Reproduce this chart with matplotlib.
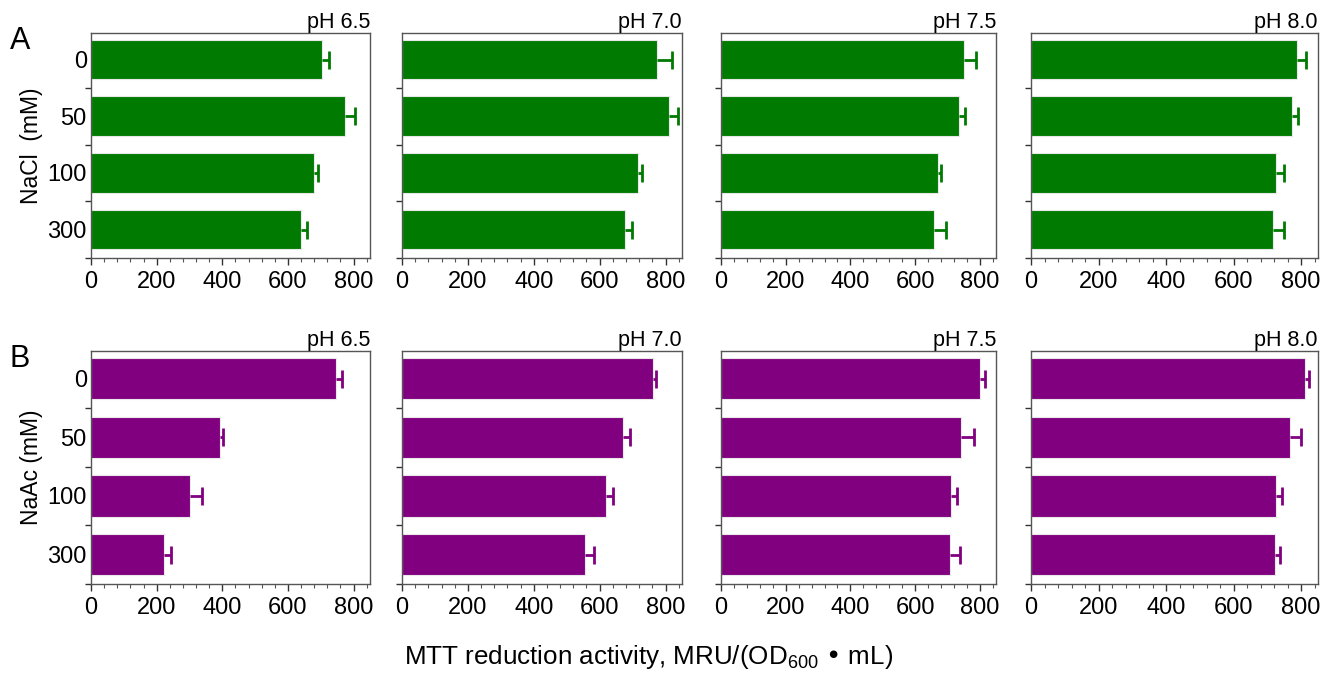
import numpy as np
import matplotlib
matplotlib.use("Agg")
from matplotlib import pyplot as plt
from matplotlib.ticker import MultipleLocator, FixedLocator

plt.rcParams['font.family'] = ['Liberation Sans', 'DejaVu Sans']
plt.rcParams['mathtext.default'] = 'regular'

ph_labels = ["pH 6.5", "pH 7.0", "pH 7.5", "pH 8.0"]
conc = ["0", "50", "100", "300"]

# NaCl, one list per pH: values for 0, 50, 100, 300 mM
nacl_65 = [705, 773, 678, 639]
nacl_70 = [775, 810, 717, 678]
nacl_75 = [750, 736, 672, 658]
nacl_80 = [787, 774, 726, 718]
nacl_65_err = [20, 30, 15, 20]
nacl_70_err = [46, 29, 12, 21]
nacl_75_err = [37, 18, 9, 38]
nacl_80_err = [28, 17, 22, 32]

# NaAc
naac_65 = [746, 392, 302, 223]
naac_70 = [763, 672, 618, 555]
naac_75 = [802, 743, 711, 708]
naac_80 = [811, 766, 727, 724]
naac_65_err = [19, 11, 37, 21]
naac_70_err = [8, 19, 24, 29]
naac_75_err = [15, 40, 18, 30]
naac_80_err = [11, 33, 15, 13]

rows = [
    ("NaCl  (mM)", "A", "#007a00",
     [nacl_65, nacl_70, nacl_75, nacl_80],
     [nacl_65_err, nacl_70_err, nacl_75_err, nacl_80_err]),
    ("NaAc (mM)", "B", "#800080",
     [naac_65, naac_70, naac_75, naac_80],
     [naac_65_err, naac_70_err, naac_75_err, naac_80_err]),
]

W, H = 1331, 673
fig = plt.figure(figsize=(W / 100, H / 100), dpi=100)

# panel boxes in pixels: left, right per column; top, bottom per row
col_lr = [(91, 370), (402, 682), (721, 996), (1031, 1318)]
row_tb = [(33, 258), (351, 584)]

y = np.arange(len(conc))
for r, (ylab, letter, color, vals, errs) in enumerate(rows):
    top, bot = row_tb[r]
    for c in range(4):
        l, rr = col_lr[c]
        ax = fig.add_axes([l / W, 1 - bot / H, (rr - l) / W, (bot - top) / H])
        v = vals[c]
        e = errs[c]
        ax.barh(y, v, height=0.7, color=color, edgecolor='#e8e8e8', linewidth=0.8)
        eb = ax.errorbar(v, y, xerr=[np.zeros(len(e)), e], fmt='none',
                         ecolor=color, elinewidth=2, capsize=6.5, capthick=2)
        eb[1][0].set_visible(False)  # no cap at the bar end
        ax.set_xlim(0, 850)
        ax.set_ylim(3.5, -0.47)
        ax.xaxis.set_major_locator(MultipleLocator(200))
        ax.xaxis.set_minor_locator(MultipleLocator(40))
        ax.tick_params(axis='x', which='major', length=5, width=1,
                       labelsize=17, pad=4, color='#333333')
        ax.tick_params(axis='x', which='minor', length=3, width=0.8,
                       color='#555555')
        ax.yaxis.set_major_locator(FixedLocator([0.5, 1.5, 2.5, 3.5]))
        ax.yaxis.set_minor_locator(FixedLocator(y))
        ax.tick_params(axis='y', which='major', length=4, width=1,
                       labelleft=False, color='#333333')
        ax.tick_params(axis='y', which='minor', length=0, labelsize=17,
                       pad=3)
        if c == 0:
            ax.set_yticklabels(conc, minor=True)
            ax.set_ylabel(ylab, fontsize=16.5, labelpad=3)
        else:
            ax.set_yticklabels([], minor=True)
        for s in ax.spines.values():
            s.set_color('#555555')
            s.set_linewidth(1)
        ax.set_title(ph_labels[c], loc='right', fontsize=15.5, pad=3)
    fig.text(10 / W, 1 - (top + 8) / H, letter, fontsize=22, va='center')

fig.text(649 / W, 1 - 657 / H, "MTT reduction activity, MRU/(OD$_{600}$ • mL)",
         fontsize=18.7, ha='center', va='center')

fig.savefig("out.png", dpi=100)
